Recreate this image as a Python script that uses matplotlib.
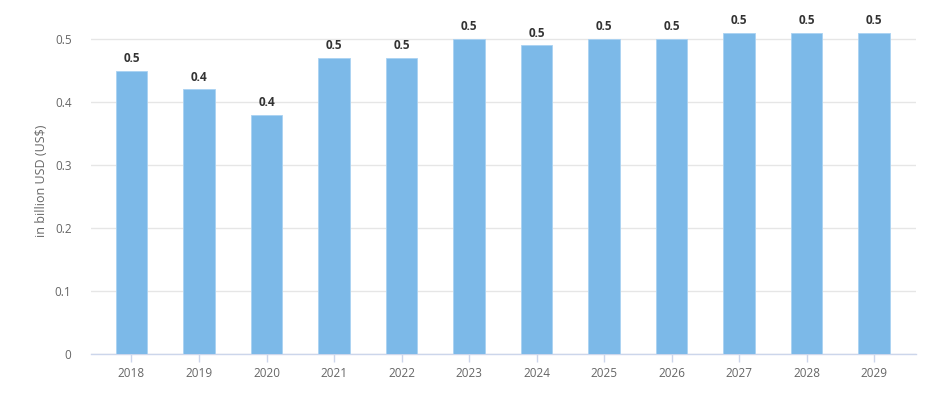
import numpy as np
import matplotlib.pyplot as plt

plt.rcParams['font.family'] = ['Open Sans', 'DejaVu Sans']

years = ['2018', '2019', '2020', '2021', '2022', '2023', '2024', '2025', '2026', '2027', '2028', '2029']
values = [0.45, 0.42, 0.38, 0.47, 0.47, 0.50, 0.49, 0.50, 0.50, 0.51, 0.51, 0.51]
labels = ['0.5', '0.4', '0.4', '0.5', '0.5', '0.5', '0.5', '0.5', '0.5', '0.5', '0.5', '0.5']
y_ticks = [0, 0.1, 0.2, 0.3, 0.4, 0.5]
y_tick_labels = ['0', '0.1', '0.2', '0.3', '0.4', '0.5']

bar_clr = '#7cb9e8'
grid_clr = '#e6e6e6'
axis_clr = '#ccd6eb'
txt_clr = '#666666'

fig = plt.figure(figsize=(9.36, 3.93), dpi=100)
ax = fig.add_axes([0.0972, 0.0992, 0.8814, 0.8817])

x = np.arange(len(years))
bars = ax.bar(x, values, width=0.47, color=bar_clr, edgecolor='#a9d2f2', linewidth=0.6, zorder=3)

for b, lab in zip(bars, labels):
    ax.annotate(lab, (b.get_x() + b.get_width() / 2, b.get_height()),
                xytext=(0, 4), textcoords='offset points',
                ha='center', va='bottom', fontsize=8.5, fontweight='bold', color='#333333')

ax.set_xlim(-0.6, len(years) - 0.38)
ax.set_ylim(0, 0.55)
ax.set_yticks(y_ticks)
ax.set_yticklabels(y_tick_labels)
ax.set_xticks(x)
ax.set_xticklabels(years)

ax.yaxis.grid(True, color=grid_clr, lw=1, zorder=0)
ax.set_axisbelow(True)
for s in ['top', 'right', 'left']:
    ax.spines[s].set_visible(False)
ax.spines['bottom'].set_color(axis_clr)
ax.spines['bottom'].set_linewidth(1)

ax.tick_params(axis='y', length=0, pad=14, labelsize=8.5, colors=txt_clr)
ax.tick_params(axis='x', length=6, width=1, color=axis_clr, pad=3, labelsize=8.5, labelcolor=txt_clr)

ax.set_ylabel('in billion USD (US$)', fontsize=9, color=txt_clr, labelpad=5)

fig.savefig('out.png', dpi=100)
